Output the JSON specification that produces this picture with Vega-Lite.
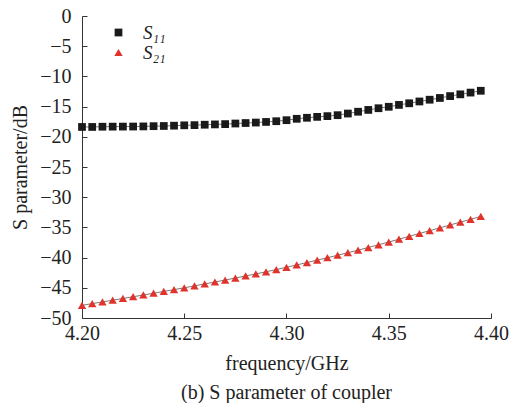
{
  "$schema": "https://vega.github.io/schema/vega-lite/v6.json",
  "width": 409,
  "height": 302,
  "autosize": "none",
  "padding": {"left": 82, "top": 16, "right": 39, "bottom": 85},
  "background": "white",
  "config": {
    "font": "Liberation Serif",
    "view": {"stroke": null},
    "axis": {
      "labelFont": "Liberation Serif",
      "titleFont": "Liberation Serif",
      "labelFontSize": 20,
      "titleFontSize": 20,
      "titleFontWeight": "normal",
      "labelColor": "#222",
      "titleColor": "#222",
      "domainColor": "#333",
      "tickColor": "#333",
      "grid": false
    }
  },
  "title": {
    "text": "(b) S parameter of coupler",
    "orient": "bottom",
    "font": "Liberation Serif",
    "fontSize": 20,
    "fontWeight": "normal",
    "color": "#222",
    "offset": 10
  },
  "data": {
    "values": [
      {"frequency": 4.200, "series": "S11", "value": -18.37},
      {"frequency": 4.205, "series": "S11", "value": -18.37},
      {"frequency": 4.210, "series": "S11", "value": -18.33},
      {"frequency": 4.215, "series": "S11", "value": -18.32},
      {"frequency": 4.220, "series": "S11", "value": -18.31},
      {"frequency": 4.225, "series": "S11", "value": -18.30},
      {"frequency": 4.230, "series": "S11", "value": -18.28},
      {"frequency": 4.235, "series": "S11", "value": -18.24},
      {"frequency": 4.240, "series": "S11", "value": -18.21},
      {"frequency": 4.245, "series": "S11", "value": -18.16},
      {"frequency": 4.250, "series": "S11", "value": -18.10},
      {"frequency": 4.255, "series": "S11", "value": -18.07},
      {"frequency": 4.260, "series": "S11", "value": -18.00},
      {"frequency": 4.265, "series": "S11", "value": -17.95},
      {"frequency": 4.270, "series": "S11", "value": -17.90},
      {"frequency": 4.275, "series": "S11", "value": -17.80},
      {"frequency": 4.280, "series": "S11", "value": -17.72},
      {"frequency": 4.285, "series": "S11", "value": -17.64},
      {"frequency": 4.290, "series": "S11", "value": -17.54},
      {"frequency": 4.295, "series": "S11", "value": -17.42},
      {"frequency": 4.300, "series": "S11", "value": -17.25},
      {"frequency": 4.305, "series": "S11", "value": -17.02},
      {"frequency": 4.310, "series": "S11", "value": -16.85},
      {"frequency": 4.315, "series": "S11", "value": -16.70},
      {"frequency": 4.320, "series": "S11", "value": -16.58},
      {"frequency": 4.325, "series": "S11", "value": -16.42},
      {"frequency": 4.330, "series": "S11", "value": -16.15},
      {"frequency": 4.335, "series": "S11", "value": -15.85},
      {"frequency": 4.340, "series": "S11", "value": -15.55},
      {"frequency": 4.345, "series": "S11", "value": -15.27},
      {"frequency": 4.350, "series": "S11", "value": -15.03},
      {"frequency": 4.355, "series": "S11", "value": -14.72},
      {"frequency": 4.360, "series": "S11", "value": -14.45},
      {"frequency": 4.365, "series": "S11", "value": -14.15},
      {"frequency": 4.370, "series": "S11", "value": -13.86},
      {"frequency": 4.375, "series": "S11", "value": -13.57},
      {"frequency": 4.380, "series": "S11", "value": -13.26},
      {"frequency": 4.385, "series": "S11", "value": -12.97},
      {"frequency": 4.390, "series": "S11", "value": -12.68},
      {"frequency": 4.395, "series": "S11", "value": -12.38},
      {"frequency": 4.200, "series": "S21", "value": -47.90},
      {"frequency": 4.205, "series": "S21", "value": -47.62},
      {"frequency": 4.210, "series": "S21", "value": -47.34},
      {"frequency": 4.215, "series": "S21", "value": -47.06},
      {"frequency": 4.220, "series": "S21", "value": -46.77},
      {"frequency": 4.225, "series": "S21", "value": -46.48},
      {"frequency": 4.230, "series": "S21", "value": -46.19},
      {"frequency": 4.235, "series": "S21", "value": -45.90},
      {"frequency": 4.240, "series": "S21", "value": -45.60},
      {"frequency": 4.245, "series": "S21", "value": -45.30},
      {"frequency": 4.250, "series": "S21", "value": -45.00},
      {"frequency": 4.255, "series": "S21", "value": -44.68},
      {"frequency": 4.260, "series": "S21", "value": -44.36},
      {"frequency": 4.265, "series": "S21", "value": -44.04},
      {"frequency": 4.270, "series": "S21", "value": -43.71},
      {"frequency": 4.275, "series": "S21", "value": -43.38},
      {"frequency": 4.280, "series": "S21", "value": -43.04},
      {"frequency": 4.285, "series": "S21", "value": -42.70},
      {"frequency": 4.290, "series": "S21", "value": -42.35},
      {"frequency": 4.295, "series": "S21", "value": -41.98},
      {"frequency": 4.300, "series": "S21", "value": -41.60},
      {"frequency": 4.305, "series": "S21", "value": -41.21},
      {"frequency": 4.310, "series": "S21", "value": -40.82},
      {"frequency": 4.315, "series": "S21", "value": -40.42},
      {"frequency": 4.320, "series": "S21", "value": -40.02},
      {"frequency": 4.325, "series": "S21", "value": -39.61},
      {"frequency": 4.330, "series": "S21", "value": -39.19},
      {"frequency": 4.335, "series": "S21", "value": -38.77},
      {"frequency": 4.340, "series": "S21", "value": -38.33},
      {"frequency": 4.345, "series": "S21", "value": -37.88},
      {"frequency": 4.350, "series": "S21", "value": -37.42},
      {"frequency": 4.355, "series": "S21", "value": -36.95},
      {"frequency": 4.360, "series": "S21", "value": -36.48},
      {"frequency": 4.365, "series": "S21", "value": -36.01},
      {"frequency": 4.370, "series": "S21", "value": -35.54},
      {"frequency": 4.375, "series": "S21", "value": -35.07},
      {"frequency": 4.380, "series": "S21", "value": -34.60},
      {"frequency": 4.385, "series": "S21", "value": -34.13},
      {"frequency": 4.390, "series": "S21", "value": -33.66},
      {"frequency": 4.395, "series": "S21", "value": -33.18}
    ]
  },
  "encoding": {
    "x": {
      "field": "frequency",
      "type": "quantitative",
      "scale": {"domain": [4.2, 4.4], "nice": false, "zero": false},
      "axis": {
        "title": "frequency/GHz",
        "values": [4.2, 4.25, 4.3, 4.35, 4.4],
        "format": ".2f",
        "tickSize": -5,
        "labelPadding": 10,
        "titlePadding": 10,
        "labelFlush": false
      }
    },
    "y": {
      "field": "value",
      "type": "quantitative",
      "scale": {"domain": [-50, 0], "nice": false},
      "axis": {
        "title": "S parameter/dB",
        "values": [-50, -45, -40, -35, -30, -25, -20, -15, -10, -5, 0],
        "tickSize": -5,
        "labelPadding": 16,
        "titlePadding": 9,
        "labelFlush": false
      }
    }
  },
  "layer": [
    {
      "mark": {"type": "line", "strokeWidth": 1, "color": "#7a7a7a"},
      "encoding": {"detail": {"field": "series", "type": "nominal"}}
    },
    {
      "mark": {"type": "point", "filled": true, "opacity": 1},
      "encoding": {
        "shape": {
          "field": "series",
          "type": "nominal",
          "scale": {"domain": ["S11", "S21"], "range": ["square", "triangle-up"]},
          "legend": null
        },
        "size": {
          "field": "series",
          "type": "nominal",
          "scale": {"domain": ["S11", "S21"], "range": [60, 70]},
          "legend": null
        },
        "color": {
          "field": "series",
          "type": "nominal",
          "scale": {"domain": ["S11", "S21"], "range": ["#1a1a1a", "#e0332b"]},
          "legend": {
            "title": null,
            "orient": "none",
            "legendX": 27,
            "legendY": 7,
            "symbolSize": 100,
            "rowPadding": 0,
            "labelOffset": 15,
            "padding": 0,
            "labelFont": "Liberation Serif",
            "labelFontSize": 19,
            "labelFontStyle": "italic",
            "labelColor": "#222",
            "labelExpr": "datum.value == 'S11' ? 'S₁₁' : 'S₂₁'",
            "encode": {
              "symbols": {
                "update": {
                  "shape": {"signal": "datum.value == 'S11' ? 'M-3.2,-0.1H3.2V0.1H-3.2ZM-0.75,-0.75H0.75V0.75H-0.75Z' : 'M-3.2,-0.1H3.2V0.1H-3.2ZM0,-0.9L1,0.8H-1Z'"}
                }
              }
            }
          }
        }
      }
    }
  ]
}
